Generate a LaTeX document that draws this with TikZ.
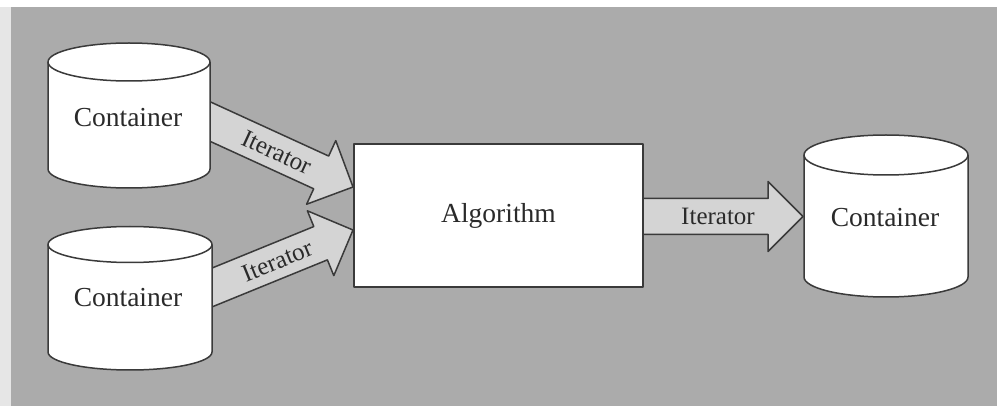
\documentclass[tikz,border=0pt]{standalone}
\usepackage{fontspec}
\setmainfont{Liberation Serif}
\usetikzlibrary{calc}
\definecolor{panel}{HTML}{ABABAB}
\definecolor{arrowfill}{HTML}{D4D4D4}
\definecolor{edge}{HTML}{3A3A3A}
\definecolor{ink}{HTML}{2A2A2A}
\definecolor{margin}{HTML}{E6E6E6}
\tikzset{
  outline/.style={draw=edge, line width=1.5pt, line join=round},
  bigtext/.style={text=ink, font=\fontsize{27.5}{30}\selectfont, inner sep=0pt},
  smalltext/.style={text=ink, font=\fontsize{25}{28}\selectfont, inner sep=0pt},
  blockarrow/.style={outline, fill=arrowfill},
  procbox/.style={outline, fill=white, minimum width=289pt, minimum height=143pt, inner sep=0pt, text=ink, font=\fontsize{27.5}{30}\selectfont}
}
% cylinder: cx, rx, y top centre, y bottom centre, ry
\newcommand{\mycyl}[5]{%
  \fill[white] (#1-#2,#3) -- (#1-#2,#4) arc[start angle=180,end angle=360,x radius=#2pt,y radius=#5pt]
     -- (#1+#2,#3) arc[start angle=0,end angle=180,x radius=#2pt,y radius=#5pt] -- cycle;
  \draw[outline] (#1,#3) ellipse[x radius=#2pt, y radius=#5pt];
  \draw[outline] (#1-#2,#3) -- (#1-#2,#4) arc[start angle=180,end angle=360,x radius=#2pt,y radius=#5pt] -- (#1+#2,#3);
}
% block arrow from coordinate #1 (tail) to #2 (tip), label #3
\newcommand{\myblk}[3]{%
  \coordinate (#1b) at ($(#2)!35pt!(#1)$);
  \coordinate (#1x) at ($(#1)!-20pt!(#2)$);
  \draw[blockarrow] ($(#1x)!18pt!90:(#2)$) -- ($(#1b)!18pt!-90:(#1)$) -- ($(#1b)!35pt!-90:(#1)$)
     -- (#2) -- ($(#1b)!35pt!90:(#1)$) -- ($(#1b)!18pt!90:(#1)$) -- ($(#1x)!18pt!-90:(#2)$) -- cycle;
  \path (#1) -- (#1b) node[pos=0.6, sloped, smalltext] {#3};
}
\begin{document}
\begin{tikzpicture}[x=1pt, y=-1pt]
  \useasboundingbox (0,0) rectangle (997,406);
  \fill[white] (0,0) rectangle (997,406);
  \fill[margin] (0,7) rectangle (11,406);
  \fill[panel] (11,7) rectangle (997,406);

  \coordinate (s1) at (210,121.5);
  \coordinate (t1) at (353,187);
  \coordinate (s2) at (212,287.5);
  \coordinate (t2) at (353,230);
  \coordinate (s3) at (643,216.5);
  \coordinate (t3) at (803,216.5);

  \myblk{s1}{t1}{Iterator}
  \myblk{s2}{t2}{Iterator}
  \myblk{s3}{t3}{Iterator}

  \mycyl{129}{81}{62}{169}{19}
  \mycyl{130}{82}{244.5}{352}{18}
  \mycyl{886}{82}{155}{277}{20}

  \node[bigtext] (c1) at (128,118) {Container};
  \node[bigtext] (c2) at (128,298) {Container};
  \node[bigtext] (c3) at (885,218) {Container};

  \node[procbox] (alg) at (498.5,215.5) {Algorithm};
\end{tikzpicture}
\end{document}
